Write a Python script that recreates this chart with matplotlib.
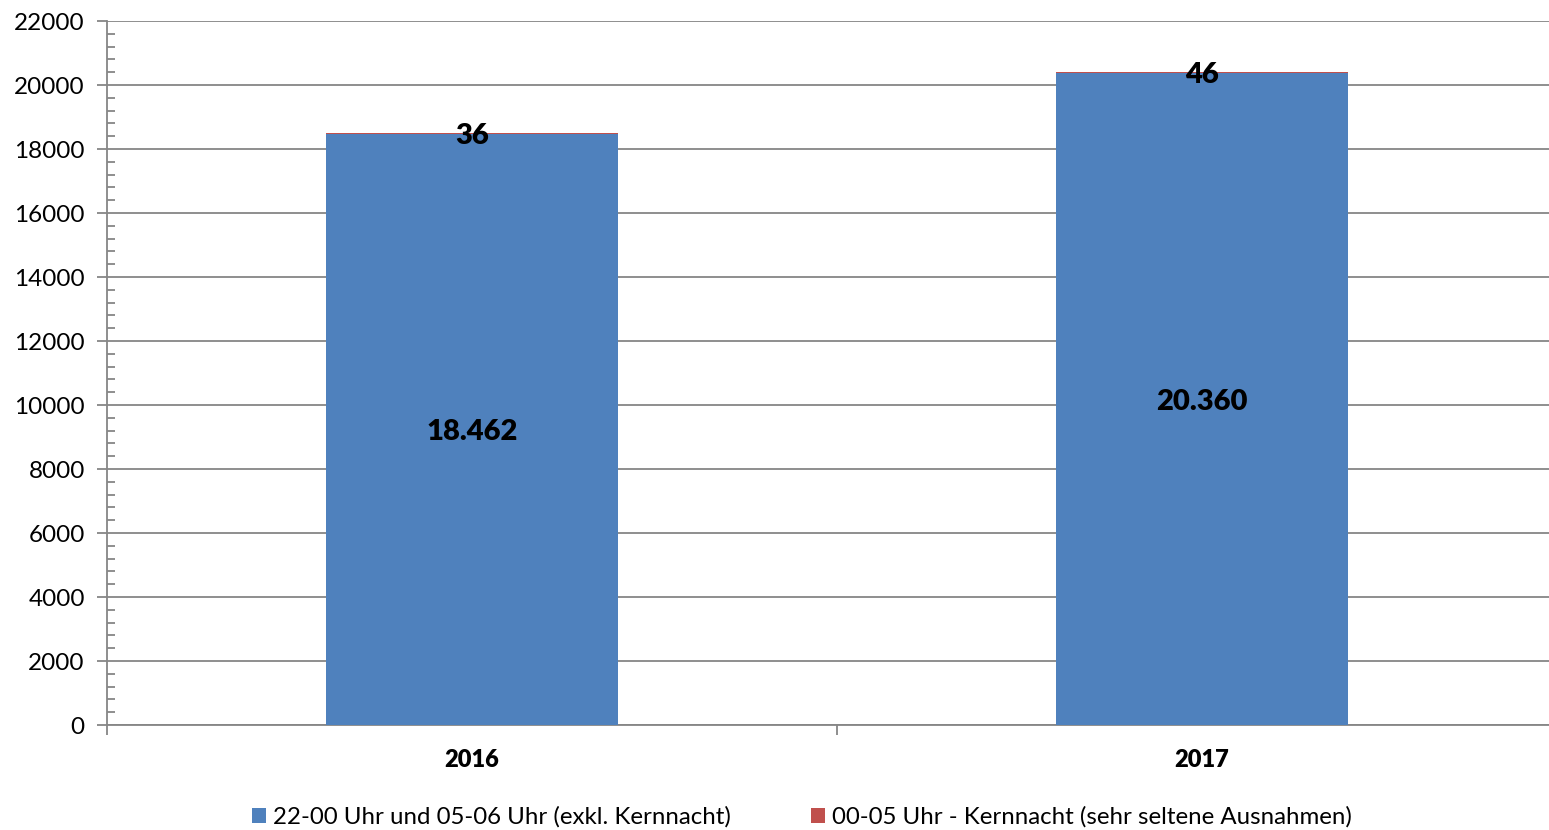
import matplotlib.pyplot as plt
from matplotlib.ticker import MultipleLocator, FixedLocator, NullFormatter

plt.rcParams['font.family'] = ['Lato', 'DejaVu Sans']

# Daten
jahre = ['2016', '2017']
randzeit = [18462, 20360]      # 22-00 Uhr und 05-06 Uhr
kernnacht = [36, 46]           # 00-05 Uhr
serien = ['22-00 Uhr und 05-06 Uhr (exkl. Kernnacht)',
          '00-05 Uhr - Kernnacht (sehr seltene Ausnahmen)']

blau = '#4F81BD'
rot = '#C0504D'
grau = '#868686'

fig = plt.figure(figsize=(15.49, 8.30), dpi=100)
# die Zeichenfläche ragt rechts etwas über den Bildrand hinaus (wie im Original)
ax = fig.add_axes([107 / 1549, 1 - 725 / 830, 1460 / 1549, 704 / 830])

x = list(range(len(jahre)))
b1 = ax.bar(x, randzeit, width=0.4, color=blau, label=serien[0], zorder=3)
b2 = ax.bar(x, kernnacht, width=0.4, bottom=randzeit, color=rot, label=serien[1], zorder=3)

def fmt(v):
    return f'{v:,}'.replace(',', '.')

for xi, v in zip(x, randzeit):
    ax.text(xi, v / 2, fmt(v), ha='center', va='center_baseline', fontsize=21,
            fontweight='heavy', zorder=4)
for xi, v, k in zip(x, randzeit, kernnacht):
    ax.text(xi, v + k / 2, fmt(k), ha='center', va='center_baseline', fontsize=21,
            fontweight='heavy', zorder=4)

ax.set_xlim(-0.5, 1.5)
ax.set_ylim(0, 22000)
ax.yaxis.set_major_locator(MultipleLocator(2000))
ax.yaxis.set_minor_locator(MultipleLocator(400))
ax.grid(axis='y', which='major', color=grau, linewidth=1.3, zorder=0)

ax.xaxis.set_major_locator(FixedLocator([-0.5, 0.5, 1.5]))
ax.xaxis.set_major_formatter(NullFormatter())
ax.xaxis.set_minor_locator(FixedLocator(x))
ax.set_xticklabels(jahre, minor=True, fontsize=17, fontweight='heavy')
ax.tick_params(axis='x', which='major', direction='out', length=7, color=grau, width=1.3)
ax.tick_params(axis='x', which='minor', length=0, pad=17)
ax.tick_params(axis='y', which='major', direction='out', length=7, color=grau,
               width=1.3, labelsize=17.5, pad=9)
ax.tick_params(axis='y', which='minor', direction='in', length=6, color=grau, width=1.3)

for s in ['top', 'right']:
    ax.spines[s].set_visible(False)
for s in ['left', 'bottom']:
    ax.spines[s].set_color(grau)
    ax.spines[s].set_linewidth(1.3)

fig.legend(handles=[b1, b2], loc='center', bbox_to_anchor=(802 / 1549, 1 - 817 / 830),
           ncol=2, frameon=False, fontsize=17.3, handlelength=0.6, handleheight=0.6,
           handletextpad=0.3, columnspacing=3.3)

plt.savefig('out.png', dpi=100)
